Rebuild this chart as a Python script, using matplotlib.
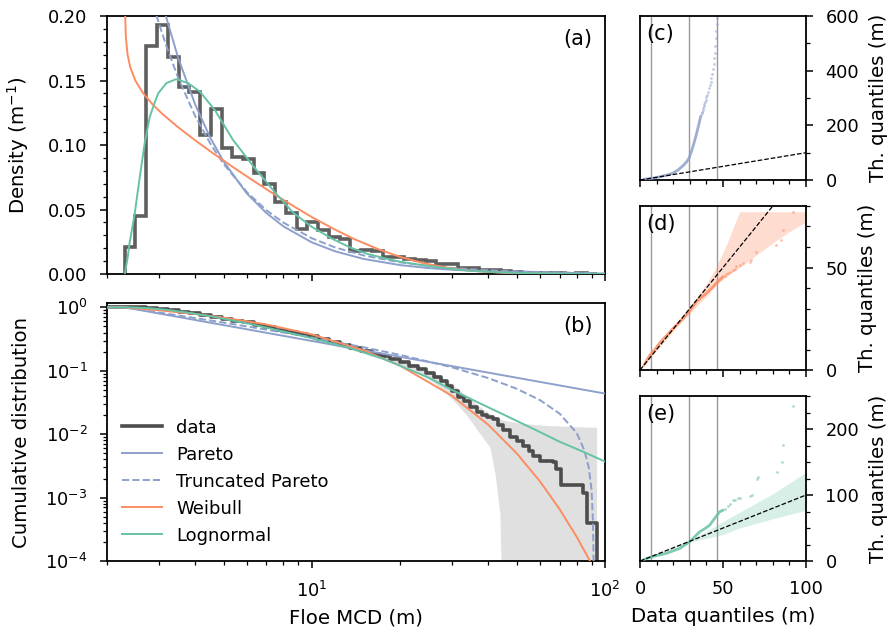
import numpy as np
import matplotlib
matplotlib.use("Agg")
import matplotlib.pyplot as plt
import matplotlib.ticker as mticker

# ---- colours (Set2) ----
col_pareto = "#8da0cb"
col_weibull = "#fc8d62"
col_lognorm = "#66c2a5"
col_data = "#4d4d4d"

# ---- (a) histogram of floe MCD, log bins ----
hist_edges = [2.30, 2.50, 2.72, 2.96, 3.22, 3.51, 3.82, 4.15, 4.52, 4.92, 5.35, 5.82,
	6.33, 6.89, 7.50, 8.16, 8.88, 9.66, 10.51, 11.43, 12.44, 13.53, 14.72, 16.02,
	17.43, 18.96, 20.63, 22.45, 24.42, 26.57, 28.91, 31.46, 34.22, 37.24, 40.51,
	44.08, 47.96, 52.18, 56.77, 61.77, 67.20, 73.12, 79.55, 86.55, 94.17]
hist_density = [0.021, 0.045, 0.177, 0.193, 0.168, 0.145, 0.141, 0.108, 0.128, 0.098,
	0.091, 0.089, 0.078, 0.070, 0.056, 0.047, 0.035, 0.040, 0.034, 0.029, 0.027,
	0.018, 0.0185, 0.018, 0.013, 0.0128, 0.0115, 0.0105, 0.0098, 0.0077, 0.0077,
	0.0044, 0.0044, 0.0032, 0.0028, 0.0020, 0.0015, 0.0010, 0.0007, 0.0005,
	0.0006, 0.0002, 0.0004, 0.0003]

# fitted densities
pareto_pdf_x = [3.10, 3.19, 3.5, 4.0, 4.5, 5.0, 6.0, 7.0, 8.0, 10.0, 12.0, 15.0, 20.0,
	25.0, 30.0, 40.0, 50.0, 70.0, 100.0]
pareto_pdf_y = [0.209, 0.1985, 0.1674, 0.1313, 0.1057, 0.0872, 0.0624, 0.0472, 0.0369,
	0.0245, 0.0176, 0.0117, 0.0069, 0.0046, 0.0033, 0.0019, 0.0013, 0.0007, 0.0004]

tpareto_pdf_x = [2.88, 3.0, 3.2, 3.5, 4.0, 4.5, 5.0, 6.0, 7.0, 8.0, 10.0, 12.0, 15.0,
	20.0, 25.0, 30.0, 40.0, 50.0, 70.0, 91.5]
tpareto_pdf_y = [0.2084, 0.1951, 0.1757, 0.1519, 0.1224, 0.1012, 0.0853, 0.0635, 0.0494,
	0.0398, 0.0277, 0.0206, 0.0144, 0.0090, 0.0063, 0.0047, 0.0029, 0.0020, 0.0012, 0.0008]

weibull_pdf_x = [2.305, 2.32, 2.35, 2.40, 2.50, 2.65, 2.85, 3.1, 3.5, 4.0, 4.6, 5.3,
	6.2, 7.2, 8.5, 10.0, 12.0, 14.0, 17.0, 20.0, 24.0, 29.0, 35.0, 45.0, 60.0, 80.0, 100.0]
weibull_pdf_y = [0.2044, 0.1835, 0.1704, 0.1604, 0.1499, 0.1405, 0.1319, 0.1238, 0.1137,
	0.1036, 0.0936, 0.0839, 0.0735, 0.0639, 0.0537, 0.0441, 0.0344, 0.0269, 0.0189,
	0.0133, 0.0084, 0.0048, 0.0025, 0.0009, 0.0002, 0.00003, 0.0]

lognorm_pdf_x = [2.30, 2.35, 2.39, 2.44, 2.49, 2.54, 2.59, 2.69, 2.80, 2.90, 2.99, 3.19,
	3.44, 3.78, 4.15, 4.67, 5.38, 6.31, 7.57, 8.63, 10.0, 11.8, 13.5, 15.5, 17.5,
	20.0, 23.9, 28.0, 34.6, 45.0, 60.0, 80.0, 100.0]
lognorm_pdf_y = [0.0, 0.012, 0.0244, 0.036, 0.0476, 0.062, 0.0758, 0.1016, 0.122, 0.132,
	0.140, 0.148, 0.151, 0.148, 0.1414, 0.127, 0.104, 0.0836, 0.062, 0.0476, 0.0365,
	0.027, 0.0206, 0.0155, 0.0125, 0.0095, 0.0068, 0.0048, 0.0025, 0.0011, 0.0005,
	0.0002, 0.0001]

# ---- (b) complementary cumulative distributions ----
data_ccdf_x = [2.0, 2.3, 2.5, 2.72, 2.96, 3.22, 3.51, 3.82, 4.15, 4.52, 4.92, 5.35, 5.82,
	6.33, 6.89, 7.5, 8.16, 8.88, 9.66, 10.51, 11.43, 12.44, 13.53, 14.72, 16.02, 17.1,
	18.5, 20.0, 21.5, 23.0, 24.5, 26.0, 27.5, 28.9, 30.0, 31.5, 33.0, 34.5, 36.5, 38.0,
	39.5, 41.5, 43.0, 45.0, 47.4, 50.0, 52.6, 55.0, 57.0, 59.9, 66.5, 68.3, 71.0, 84.0,
	86.6, 93.6]
data_ccdf = [1.0, 1.0, 0.996, 0.986, 0.945, 0.895, 0.845, 0.80, 0.753, 0.713, 0.662, 0.62,
	0.577, 0.532, 0.488, 0.445, 0.408, 0.374, 0.347, 0.313, 0.282, 0.252, 0.225, 0.205,
	0.185, 0.172, 0.152, 0.137, 0.121, 0.105, 0.091, 0.079, 0.068, 0.057, 0.048, 0.039,
	0.033, 0.027, 0.022, 0.020, 0.0185, 0.0173, 0.014, 0.0115, 0.0089, 0.0078, 0.0066,
	0.0055, 0.0045, 0.0038, 0.0036, 0.0028, 0.0016, 0.0012, 0.0004, 0.00001]

band_x = [10.0, 15.0, 20.0, 23.0, 26.0, 29.0, 31.2, 34.0, 37.0, 40.5, 42.2, 43.8, 44.7,
	46.0, 50.0, 55.0, 60.0, 66.0, 75.0, 85.0, 93.6]
band_lo = [0.305, 0.19, 0.12, 0.092, 0.066, 0.042, 0.030, 0.019, 0.011, 0.0062, 0.0023,
	0.00055, 0.00001, 0.00001, 0.00001, 0.00001, 0.00001, 0.00001, 0.00001, 0.00001, 0.00001]
band_hi = [0.322, 0.215, 0.152, 0.122, 0.094, 0.069, 0.054, 0.039, 0.028, 0.021, 0.019,
	0.0175, 0.0168, 0.0163, 0.0152, 0.0145, 0.0140, 0.0136, 0.0133, 0.0130, 0.0128]

pareto_ccdf_x = [2.0, 2.3, 3.0, 5.0, 10.0, 20.0, 50.0, 100.0]
pareto_ccdf = [1.0, 1.0, 0.802, 0.525, 0.295, 0.166, 0.0776, 0.0437]

tpareto_ccdf_x = [2.0, 2.3, 3.0, 4.0, 5.0, 7.0, 10.0, 15.0, 20.0, 30.0, 40.0, 50.0, 60.0,
	70.0, 80.0, 85.0, 88.0, 90.0, 91.0, 91.4]
tpareto_ccdf = [1.0, 1.0, 0.831, 0.677, 0.575, 0.445, 0.3346, 0.235, 0.178, 0.1136, 0.0766,
	0.052, 0.0345, 0.0211, 0.0105, 0.0056, 0.0030, 0.0013, 0.0004, 0.0001]

weibull_ccdf_x = [2.0, 2.3, 2.5, 3.0, 4.0, 5.0, 7.0, 10.0, 15.0, 20.0, 30.0, 40.0, 50.0,
	60.0, 70.0, 80.0, 90.0, 100.0]
weibull_ccdf = [1.0, 1.0, 0.967, 0.899, 0.785, 0.689, 0.537, 0.3747, 0.2104, 0.120, 0.0405,
	0.01406, 0.00498, 0.0018, 0.000657, 0.000242, 0.0000902, 0.000034]

lognorm_ccdf_x = [2.0, 2.3, 2.5, 2.8, 3.2, 3.8, 4.67, 6.31, 8.63, 10.0, 13.5, 17.5, 20.0,
	25.0, 30.0, 40.0, 50.0, 60.0, 70.0, 85.0, 100.0]
lognorm_ccdf = [1.0, 1.0, 0.995, 0.968, 0.913, 0.823, 0.703, 0.533, 0.384, 0.326, 0.2275,
	0.155, 0.12, 0.078, 0.050, 0.0265, 0.0162, 0.0108, 0.0076, 0.0052, 0.0037]

# ---- (c)-(e) QQ plots ----
qq_quantile_lines = [6.4, 29.7, 46.2]
qq_ref = [0, 100]

qq_c_x = [2.3, 5, 8, 10, 14, 17, 20, 23, 26, 28, 29.5, 31, 32.5, 34, 35.5, 36.5]
qq_c_y = [2.3, 4, 7, 9, 15, 19, 26, 37, 53, 66, 80, 105, 135, 168, 205, 232]
qq_c_tail_x = [36.8, 37.1, 37.4, 37.7, 38.0, 38.4, 38.8, 39.2, 39.6, 40.0, 40.5, 41.0,
	41.5, 42.0, 42.5, 43.0, 43.5, 44.0, 44.4, 44.8, 45.1, 45.4, 45.7, 45.9, 46.1, 46.2]
qq_c_tail_y = [238, 244, 250, 256, 262, 270, 278, 286, 294, 302, 312, 322, 335, 346, 358,
	372, 388, 405, 425, 445, 465, 490, 520, 545, 570, 591]

qq_d_x = [2.3, 6, 9, 12, 20, 26, 30, 34, 40, 44, 48, 50]
qq_d_y = [2.3, 7.3, 10.0, 13.3, 20.3, 25.2, 29.0, 33.5, 37.4, 40.6, 44.0, 45.5]
qq_d_tail_x = [51, 52, 53, 54.5, 56, 57, 58, 60, 62, 66, 67, 70, 82, 85, 86, 92.4]
qq_d_tail_y = [46, 46.8, 47.3, 48, 48.8, 49.5, 50.7, 51.3, 52, 52.5, 53.5, 57.7, 61, 63.4,
	68.3, 77.2]
qq_d_band_x = [0, 10, 20, 30, 40, 46, 52, 60, 70, 80, 90, 100]
qq_d_band_hi = [0, 10.5, 21, 31, 42, 50.4, 61, 77.2, 77.2, 77.2, 77.2, 77.2]
qq_d_band_lo = [0, 9.5, 19, 27.6, 36, 41.5, 45.5, 50, 56, 62, 67.5, 72.3]

qq_e_x = [2.3, 8, 16, 24, 30, 33, 36, 39, 42, 45, 48, 50]
qq_e_y = [2.3, 7, 11.7, 19.2, 29.3, 37, 44.4, 49, 54.5, 64.7, 74.7, 77]
qq_e_tail_x = [51, 53.2, 54.5, 56, 57, 59, 60, 66, 67.3, 70.3, 71, 82.3, 85.3, 86, 92.4]
qq_e_tail_y = [79, 83.3, 86, 92.4, 93, 95, 96, 99, 100, 123.8, 128, 135.3, 150.5, 175.8, 234.8]
qq_e_band_x = [0, 10, 20, 30, 40, 50, 60, 70, 80, 90, 100]
qq_e_band_hi = [0, 10.5, 21, 31.5, 45, 60, 74, 88, 102, 118, 135]
qq_e_band_lo = [0, 9.5, 19, 28.5, 34.5, 40, 50, 57, 64, 70.5, 77]

tick_size = 12.8
label_size = 14.2


def style_axis(ax):

	for s in ax.spines.values():
		s.set_linewidth(1.3)
	#end_for
	ax.tick_params(which="major", length=5, width=1.1, labelsize=tick_size, pad=9)
	ax.tick_params(which="minor", length=3, width=0.9)

#end_def


def qq_panel(ax, color, x, y, tx, ty, letter, ymax, ymajor, yminor):

	style_axis(ax)
	for q in qq_quantile_lines:
		ax.axvline(q, color="0.6", lw=1.0, zorder=1)
	#end_for
	ax.plot(x, y, color=color, lw=2.0, alpha=0.85, zorder=3, solid_capstyle="round")
	ax.scatter(tx, ty, s=4, color=color, alpha=0.55, lw=0, zorder=3)
	ax.plot(qq_ref, qq_ref, color="k", ls="--", lw=0.9, zorder=4)
	ax.set_xlim(0, 100)
	ax.set_ylim(0, ymax)
	ax.xaxis.set_major_locator(mticker.MultipleLocator(50))
	ax.xaxis.set_minor_locator(mticker.MultipleLocator(10))
	ax.yaxis.set_major_locator(mticker.MultipleLocator(ymajor))
	ax.yaxis.set_minor_locator(mticker.MultipleLocator(yminor))
	ax.yaxis.tick_right()
	ax.yaxis.set_label_position("right")
	ax.tick_params(which="both", left=False, right=True, top=False)
	ax.set_ylabel("Th. quantiles (m)", fontsize=label_size, labelpad=7)
	ax.text(0.04, 0.95, letter, transform=ax.transAxes, ha="left", va="top", fontsize=15)

#end_def


def main():

	fig = plt.figure(figsize=(8.93, 6.35), dpi=100)

	ax_a = fig.add_axes([0.1198, 0.5685, 0.5577, 0.4063])
	ax_b = fig.add_axes([0.1198, 0.1165, 0.5577, 0.4063])
	ax_c = fig.add_axes([0.7167, 0.7165, 0.1859, 0.2583])
	ax_d = fig.add_axes([0.7167, 0.4173, 0.1859, 0.2583])
	ax_e = fig.add_axes([0.7167, 0.1165, 0.1859, 0.2598])

	# (a) density
	style_axis(ax_a)
	ax_a.stairs(hist_density, hist_edges, color=col_data, lw=2.6, alpha=0.9, zorder=2)
	ax_a.plot(pareto_pdf_x, pareto_pdf_y, color=col_pareto, lw=1.4, zorder=3)
	ax_a.plot(tpareto_pdf_x, tpareto_pdf_y, color=col_pareto, lw=1.4, ls="--", zorder=3)
	ax_a.plot(weibull_pdf_x, weibull_pdf_y, color=col_weibull, lw=1.4, zorder=3)
	ax_a.plot(lognorm_pdf_x, lognorm_pdf_y, color=col_lognorm, lw=1.4, zorder=3)
	ax_a.set_xscale("log")
	ax_a.set_xlim(2, 100)
	ax_a.set_ylim(0, 0.2)
	ax_a.yaxis.set_major_locator(mticker.MultipleLocator(0.05))
	ax_a.yaxis.set_minor_locator(mticker.MultipleLocator(0.01))
	ax_a.yaxis.set_major_formatter(mticker.FormatStrFormatter("%.2f"))
	ax_a.xaxis.set_minor_formatter(mticker.NullFormatter())
	ax_a.tick_params(labelbottom=False)
	ax_a.set_ylabel(r"Density (m$^{-1}$)", fontsize=label_size)
	ax_a.yaxis.set_label_coords(-0.152, 0.5)
	ax_a.text(0.975, 0.95, "(a)", transform=ax_a.transAxes, ha="right", va="top", fontsize=15)

	# (b) cumulative
	style_axis(ax_b)
	ax_b.fill_between(band_x, band_lo, band_hi, color="0.88", lw=0, zorder=1)
	ax_b.plot(data_ccdf_x, data_ccdf, color=col_data, lw=2.6, drawstyle="steps-post",
		zorder=2, label="data")
	ax_b.plot(pareto_ccdf_x, pareto_ccdf, color=col_pareto, lw=1.4, zorder=3, label="Pareto")
	ax_b.plot(tpareto_ccdf_x, tpareto_ccdf, color=col_pareto, lw=1.4, ls="--", zorder=3,
		label="Truncated Pareto")
	ax_b.plot(weibull_ccdf_x, weibull_ccdf, color=col_weibull, lw=1.4, zorder=3, label="Weibull")
	ax_b.plot(lognorm_ccdf_x, lognorm_ccdf, color=col_lognorm, lw=1.4, zorder=3,
		label="Lognormal")
	ax_b.set_xscale("log")
	ax_b.set_yscale("log")
	ax_b.set_xlim(2, 100)
	ax_b.set_ylim(1e-4, 1.17)
	ax_b.yaxis.set_major_locator(mticker.LogLocator(base=10, numticks=10))
	ax_b.yaxis.set_minor_locator(mticker.LogLocator(base=10, subs=np.arange(2, 10), numticks=20))
	ax_b.yaxis.set_minor_formatter(mticker.NullFormatter())
	ax_b.xaxis.set_minor_formatter(mticker.NullFormatter())
	ax_b.set_xlabel("Floe MCD (m)", fontsize=label_size, labelpad=6)
	ax_b.set_ylabel("Cumulative distribution", fontsize=label_size)
	ax_b.yaxis.set_label_coords(-0.152, 0.5)
	ax_b.text(0.975, 0.95, "(b)", transform=ax_b.transAxes, ha="right", va="top", fontsize=15)
	ax_b.legend(loc="lower left", bbox_to_anchor=(0.016, 0.035), borderaxespad=0,
		frameon=False, fontsize=13, handlelength=2.2, handletextpad=0.8, labelspacing=0.5)

	# (c)-(e) QQ
	qq_panel(ax_c, col_pareto, qq_c_x, qq_c_y, qq_c_tail_x, qq_c_tail_y, "(c)", 600, 200, 100)
	qq_panel(ax_d, col_weibull, qq_d_x, qq_d_y, qq_d_tail_x, qq_d_tail_y, "(d)", 80, 50, 10)
	ax_d.fill_between(qq_d_band_x, qq_d_band_lo, qq_d_band_hi, color=col_weibull, alpha=0.3,
		lw=0, zorder=2)
	qq_panel(ax_e, col_lognorm, qq_e_x, qq_e_y, qq_e_tail_x, qq_e_tail_y, "(e)", 250, 100, 25)
	ax_e.fill_between(qq_e_band_x, qq_e_band_lo, qq_e_band_hi, color=col_lognorm, alpha=0.25,
		lw=0, zorder=2)

	ax_c.tick_params(labelbottom=False)
	ax_d.tick_params(labelbottom=False)
	ax_e.set_xlabel("Data quantiles (m)", fontsize=label_size, labelpad=6)

	fig.savefig("out.png", dpi=100)

#end_def


main()
